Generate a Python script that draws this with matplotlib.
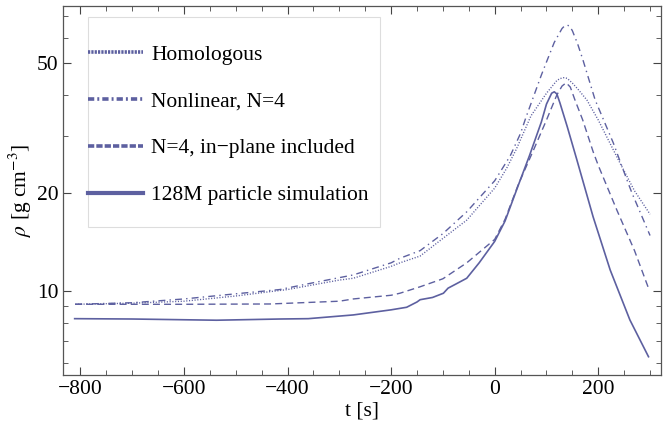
import matplotlib
matplotlib.use("Agg")
import matplotlib.pyplot as plt
from matplotlib.lines import Line2D
from matplotlib.patches import Rectangle
from matplotlib.ticker import FixedLocator, NullFormatter, FixedFormatter

plt.rcParams['font.family'] = ['Liberation Serif', 'DejaVu Serif']
plt.rcParams['mathtext.fontset'] = 'stix'
plt.rcParams['lines.scale_dashes'] = False

# ---- data ----
t_hom = [-810, -700, -600, -500, -434, -400, -300, -273, -200, -183, -144, -100, -54, 0, 23, 42, 70, 100, 120, 126, 133, 140, 150, 160, 178, 200, 242, 270, 300]
rho_hom = [9.1, 9.17, 9.3, 9.65, 9.95, 10.1, 10.8, 10.94, 11.9, 12.2, 12.8, 14.5, 16.5, 20.7, 23.8, 27.3, 34.5, 40.5, 44.3, 44.9, 45.2, 45.0, 43.5, 41.8, 38.6, 33.5, 24.7, 20.3, 17.2]

t_nl = [-810, -700, -600, -500, -415, -350, -273, -200, -183, -144, -100, -54, 0, 30, 50, 60, 90, 100, 115, 130, 135, 140, 145, 150, 160, 170, 194, 229, 256, 265, 300]
rho_nl = [9.1, 9.2, 9.45, 9.8, 10.1, 10.6, 11.2, 12.2, 12.6, 13.3, 15.0, 17.5, 21.8, 26.0, 30.5, 34.0, 46.0, 50.5, 58.0, 64.0, 65.2, 65.6, 65.0, 63.0, 57.5, 51.5, 38.6, 28.5, 21.8, 20.0, 14.8]

t_inp = [-810, -600, -434, -300, -273, -200, -183, -144, -100, -54, 0, 20, 46, 75, 100, 120, 130, 138, 146, 155, 170, 190, 200, 236, 270, 297]
rho_inp = [9.1, 9.1, 9.12, 9.3, 9.45, 9.7, 9.84, 10.3, 10.9, 12.2, 14.4, 16.6, 21.3, 27.1, 33.5, 40.0, 42.6, 43.6, 42.3, 38.6, 33.5, 26.8, 24.3, 17.7, 13.3, 10.2]

t_sim = [-811, -700, -537, -415, -360, -273, -200, -170, -150, -144, -120, -99, -90, -75, -54, -30, 0, 20, 46, 67, 90, 100, 110, 115, 120, 126, 140, 158, 175, 190, 223, 261, 297]
rho_sim = [8.22, 8.2, 8.13, 8.2, 8.22, 8.44, 8.75, 8.91, 9.25, 9.4, 9.55, 9.84, 10.2, 10.5, 10.94, 12.2, 14.2, 16.4, 21.2, 26.0, 33.0, 37.5, 40.5, 40.9, 40.3, 37.8, 32.0, 25.5, 20.5, 16.9, 11.6, 8.15, 6.28]

labels = ["Homologous", "Nonlinear, N=4", "N=4, in\u2212plane included", "128M particle simulation"]

x_major = [-800, -600, -400, -200, 0, 200]
y_major = [10, 20, 50]
y_major_labels = ["10", "20", "50"]
y_minor = [6, 7, 8, 9, 30, 40, 60, 70]

color = '#5d60a0'

fig = plt.figure(figsize=(6.71, 4.30), dpi=100)
ax = fig.add_axes([0.0943, 0.128, 0.8907, 0.8587])

lw = 1.0
ax.plot(t_hom, rho_hom, color=color, lw=lw, dashes=(0.8, 1.2))
ax.plot(t_nl, rho_nl, color=color, lw=lw, dashes=(5, 3, 1, 3))
ax.plot(t_inp, rho_inp, color=color, lw=lw, dashes=(5, 3))
ax.plot(t_sim, rho_sim, color=color, lw=1.2)

ax.set_yscale('log')
ax.set_xlim(-833, 321)
ax.set_ylim(5.52, 75.2)

ax.xaxis.set_major_locator(FixedLocator(x_major))
ax.xaxis.set_minor_locator(FixedLocator([v for v in range(-800, 301, 50) if v % 200 != 0]))
ax.xaxis.set_major_formatter(FixedFormatter([("\u2212" + str(-v)) if v < 0 else str(v) for v in x_major]))
ax.yaxis.set_major_locator(FixedLocator(y_major))
ax.yaxis.set_major_formatter(FixedFormatter(y_major_labels))
ax.yaxis.set_minor_locator(FixedLocator(y_minor))
ax.yaxis.set_minor_formatter(NullFormatter())

ax.tick_params(which='both', direction='in', top=True, right=True, colors='#444444',
               labelcolor='black', labelsize=15.5)
ax.tick_params(which='major', length=6, width=0.8)
ax.tick_params(which='minor', length=3.5, width=0.6)
for s in ax.spines.values():
    s.set_color('#555555')
    s.set_linewidth(0.9)

ax.set_xlabel('t [s]', fontsize=15.5, labelpad=2)
ax.set_ylabel(r'$\rho$ [g cm$^{-3}$]', fontsize=15.5, labelpad=2)

# legend
handles = [
    Line2D([], [], color=color, lw=2.6, dashes=(1.6, 0.8)),
    Line2D([], [], color=color, lw=2.6, dashes=(4.5, 2.2, 1.4, 2.2)),
    Line2D([], [], color=color, lw=2.6, dashes=(4.5, 1.5)),
    Line2D([], [], color=color, lw=3.0),
]
ax.add_patch(Rectangle((0.0413, 0.4008), 0.4887, 0.5682, transform=ax.transAxes,
                       fill=True, facecolor='white', edgecolor='#dddddd', lw=0.8, zorder=4))
leg = ax.legend(handles, labels, loc='upper left', bbox_to_anchor=(0.0413, 0.894),
                frameon=False, borderpad=0, borderaxespad=0, handlelength=2.56,
                handletextpad=0.37, labelspacing=1.24, fontsize=15.5)
leg.set_zorder(5)

fig.savefig('out.png', dpi=100)
